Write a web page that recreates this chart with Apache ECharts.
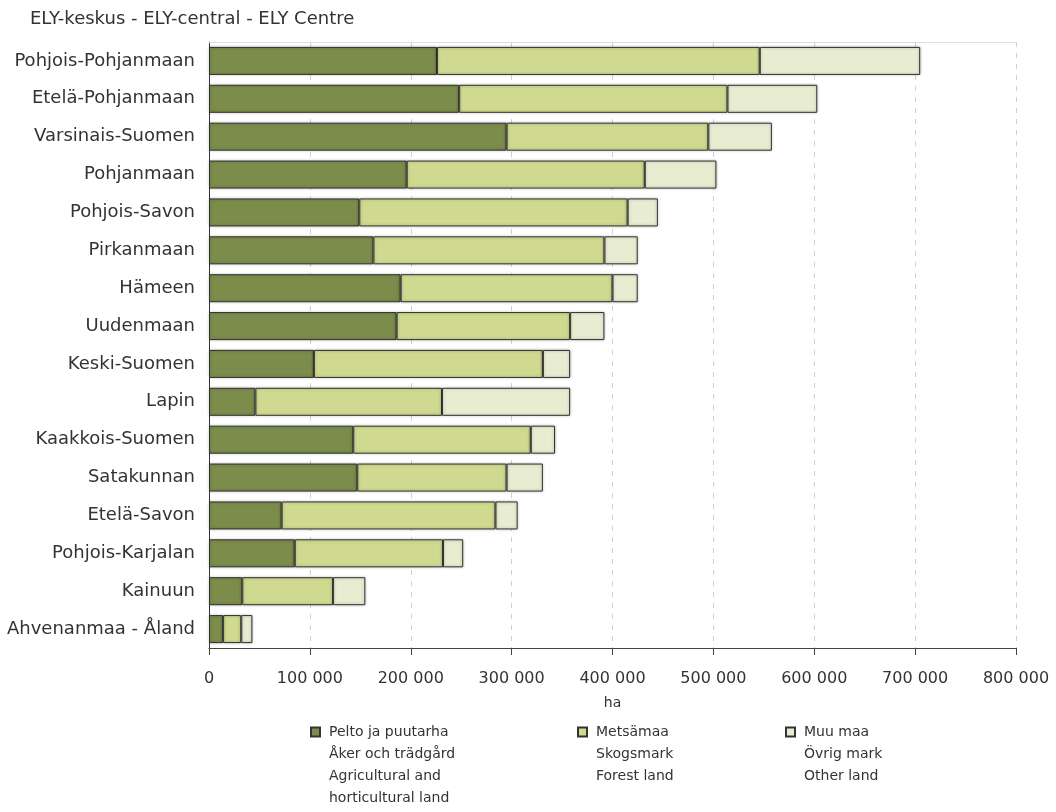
<!DOCTYPE html>
<html>
<head>
<meta charset="utf-8">
<script src="https://cdn.jsdelivr.net/npm/echarts@6/dist/echarts.min.js"></script>
<style>
html,body{margin:0;padding:0;background:#fff;}
#chart{width:1056px;height:812px;}
</style>
</head>
<body>
<div id="chart"></div>
<script>
const titleText = 'ELY-keskus - ELY-central - ELY Centre';
const categories = ['Pohjois-Pohjanmaan','Etelä-Pohjanmaan','Varsinais-Suomen','Pohjanmaan','Pohjois-Savon','Pirkanmaan','Hämeen','Uudenmaan','Keski-Suomen','Lapin','Kaakkois-Suomen','Satakunnan','Etelä-Savon','Pohjois-Karjalan','Kainuun','Ahvenanmaa - Åland'];
const agricultural = [226000,248000,295000,196000,149000,163000,190000,186000,104000,46000,143000,147000,72000,85000,33000,14000];
const forest = [320000,266000,200000,236000,266000,229000,210000,172000,227000,185000,176000,148000,212000,147000,90000,18000];
const other = [159000,89000,63000,71000,30000,33000,25000,34000,27000,127000,24000,36000,22000,20000,32000,11000];
const seriesNames = [
  'Pelto ja puutarha\nÅker och trädgård\nAgricultural and\nhorticultural land',
  'Metsämaa\nSkogsmark\nForest land',
  'Muu maa\nÖvrig mark\nOther land'
];
const seriesColors = ['#7b8c4b','#cfd98f','#e8ecd0'];
const axisName = 'ha';

const FONT = 'DejaVu Sans';
const TXT = '#333';
const fmt = v => String(v).replace(/\B(?=(\d{3})+(?!\d))/g, ' ');

const chart = echarts.init(document.getElementById('chart'));
const values = [agricultural, forest, other];
const L = 22;
const SQ = 9;
const legendLeft = [310, 577, 785];
const iconCenter = 732;

const legends = seriesNames.map((n, i) => {
  const lines = n.split('\n').length;
  const H = SQ + (lines - 1) * L;
  return {
    data: [n],
    left: legendLeft[i],
    top: iconCenter - SQ / 2 - (L - SQ) / 2,
    padding: 0,
    itemWidth: SQ,
    itemHeight: H,
    icon: 'path://M0,0L' + SQ + ',0L' + SQ + ',' + SQ + 'L0,' + SQ + 'Z M0,' + H + 'L0.001,' + H,
    selectedMode: false,
    textStyle: {fontFamily: FONT, fontSize: 14, color: TXT, lineHeight: L, padding: [0, 0, 0, 4]}
  };
});

chart.setOption({
  animation: false,
  title: {
    text: titleText, left: 30, top: 10, padding: 0,
    textStyle: {fontFamily: FONT, fontSize: 18, fontWeight: 'normal', color: TXT}
  },
  legend: legends,
  grid: {left: 209, right: 40, top: 42, bottom: 164, containLabel: false},
  xAxis: [{
    type: 'value', min: 0, max: 800000, interval: 100000,
    name: axisName, nameLocation: 'middle', nameGap: 48,
    nameTextStyle: {fontFamily: FONT, fontSize: 14, color: TXT},
    axisLine: {show: true, lineStyle: {color: '#444', width: 1}},
    axisTick: {show: true, length: 7, lineStyle: {color: '#444'}},
    axisLabel: {fontFamily: FONT, fontSize: 16, color: TXT, margin: 23, formatter: fmt},
    splitLine: {show: true, lineStyle: {color: '#d4d0d0', type: [5, 6], width: 1}}
  }, {
    type: 'value', min: 0, max: 800000, position: 'top',
    axisLine: {show: true, lineStyle: {color: '#dddddd', width: 1}},
    axisTick: {show: false}, axisLabel: {show: false}, splitLine: {show: false}
  }],
  yAxis: {
    type: 'category', inverse: true, data: categories,
    axisLine: {show: true, lineStyle: {color: '#333', width: 1}},
    axisTick: {show: false},
    axisLabel: {fontFamily: FONT, fontSize: 18, color: TXT, margin: 14}
  },
  series: seriesNames.map((n, i) => ({
    name: n, type: 'bar', stack: 'total', xAxisIndex: 0,
    barCategoryGap: '26%',
    data: values[i],
    itemStyle: {color: seriesColors[i], borderColor: '#333', borderWidth: 1,
      shadowColor: 'rgba(0,0,0,0.3)', shadowBlur: 3},
    emphasis: {disabled: true}
  }))
});
</script>
</body>
</html>
